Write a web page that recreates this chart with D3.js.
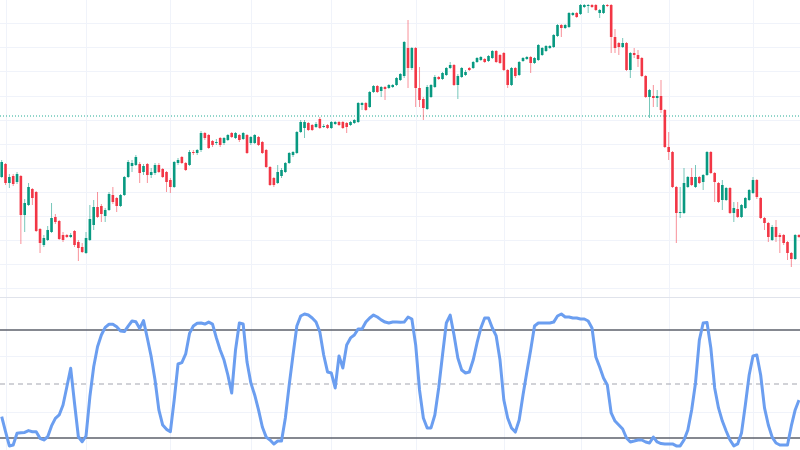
<!DOCTYPE html>
<meta charset="utf-8">
<style>
  body { margin: 0; background: #fff; }
  svg { display: block; }
</style>
<body>
<div id="chart"></div>
<script src="https://cdn.jsdelivr.net/npm/d3@7"></script>
<script>
  // candle values (arbitrary price units)
  var opens = [
    123,136,117,124,118,124,85,95,111,108, 71,55,60,68,83,79,65,65,63,69,
    58,53,47,60,75,93,94,84,90,105, 102,94,105,123,134,135,136,128,136,125,
    127,135,131,128,120,113,137,143,137,135, 148,147,150,167,165,159,157,162,157,160,
    167,162,165,161,165,157,157,163,158,150, 133,122,117,124,128,137,145,147,168,172,
    177,175,173,181,173,175,172,176,178,178, 177,175,177,178,195,197,193,208,214,209,
    213,212,213,215,220,224,252,232,252,212, 201,191,203,213,223,221,225,232,235,215,
    223,225,232,232,238,240,241,239,242,249, 245,247,230,215,232,225,239,241,243,237,
    240,245,249,252,253,264,275,272,273,285, 287,286,293,294,295,295,287,287,295,295,
    263,257,253,257,230,247,245,242,224,203, 204,202,204,190,153,148,113,87,87,113,
    123,113,123,118,125,148,127,117,100,100, 112,87,91,83,92,100,107,120,102,82,
    77,60,73,65,65,58,47,41,65
  ];
  var highs = [
    140,137,126,126,128,125,101,117,112,109, 72,65,74,97,86,80,68,66,67,70,
    60,57,68,95,100,108,96,92,108,113, 103,106,124,140,140,145,138,136,137,132,
    137,137,132,129,122,139,142,144,138,150, 150,151,169,168,166,160,161,163,163,166,
    168,168,166,168,166,164,166,164,159,151, 134,123,135,132,138,148,149,169,180,180,
    178,176,178,183,176,176,179,179,179,179, 178,179,181,198,198,198,209,215,215,214,
    214,216,216,223,227,259,280,253,253,233, 203,215,216,225,224,228,233,238,236,226,
    233,230,233,239,243,244,242,245,250,250, 246,248,231,233,233,239,243,244,244,243,
    256,253,255,255,266,276,276,276,288,288, 288,296,296,296,296,296,291,296,296,296,
    271,258,262,258,248,252,250,243,225,211, 215,210,220,191,168,149,114,113,132,124,
    132,135,124,126,149,149,128,118,120,113, 113,98,98,96,103,111,123,121,103,83,
    78,75,80,67,66,59,48,66,66
  ];
  var lows = [
    122,115,112,114,116,56,68,94,95,68, 47,53,59,67,76,60,58,62,62,53,
    39,47,46,59,70,82,78,78,89,96, 88,93,104,122,128,134,117,125,117,122,
    125,127,122,108,107,112,135,136,129,134, 145,145,148,160,151,153,155,153,155,159,
    162,161,158,160,146,155,156,154,146,132, 114,113,116,122,127,136,143,146,167,162,
    169,169,172,171,172,171,171,175,174,171, 167,174,176,177,190,189,192,207,207,203,
    200,211,212,214,219,222,212,230,193,193, 180,190,202,212,220,220,224,231,214,201,
    222,224,229,231,237,239,237,238,241,237, 236,229,212,214,222,224,238,240,227,236,
    239,244,248,251,252,263,263,271,272,284, 282,285,292,287,292,289,282,286,293,247,
    247,245,252,229,222,242,233,223,202,182, 193,193,187,152,140,112,57,82,86,112,
    114,112,116,110,124,126,98,97,90,99, 86,78,82,82,91,99,106,101,81,70,
    58,59,58,47,55,40,33,40,62
  ];
  var closes = [
    138,117,123,116,126,85,97,113,102,69, 57,62,70,82,78,61,60,63,65,55,
    52,48,62,81,93,83,86,90,106,98, 94,105,123,138,137,143,127,134,125,128,
    135,128,123,118,113,138,140,137,130,148, 147,150,167,162,152,155,158,155,162,165,
    163,167,160,167,147,163,165,155,147,133, 115,115,128,130,137,147,148,168,178,178,
    170,170,176,172,174,172,178,178,175,172, 173,178,180,197,197,190,208,214,208,213,
    211,215,215,222,226,258,232,252,212,200, 192,213,215,223,221,227,232,235,215,224,
    232,228,230,238,242,243,238,244,249,238, 237,230,215,232,224,238,242,243,237,242,
    255,252,254,254,265,275,272,275,287,287, 283,295,295,295,293,290,290,295,294,263,
    252,253,257,230,247,245,241,224,203,210, 202,204,190,153,148,113,87,88,117,123,
    115,123,117,125,148,127,118,98,115,112, 87,92,83,95,102,110,120,103,82,77,
    63,73,63,63,57,47,41,65,63
  ];

  // oscillator (0-100)
  var stoch = [
    31.9,23.5,15.6,16.1,22.6,22.9,23.1,24.1,23.5,23.5, 19.8,18.9,20.7,26.7,30.9,32.8,38.3,48.5,58.7,39.3,
    20.7,17.9,21.1,42.9,59.6,70.7,77.2,81.5,83.2,83.2, 81.8,79.4,79.1,82.2,85,84.6,80.9,85.2,75.4,65.2,
    52.2,35.6,27.2,24.8,23.5,41.1,61.1,61.9,66.7,78.1, 82.2,83.7,
    83.9,83.3,84.4,83.3,75.6,68.9,63.3,55,45,68.9, 83.9,83.3,62.2,50.6,43.9,35.6,26.1,20.5,18.9,16.7,
    18.3,18.3,31.1,49.4,66.1,82.2,87.8,88.9,88.3,86.7, 84.4,78.9,66.1,56.7,56.1,47.8,65.6,58.9,71.7,75.6,
    77.2,80.6,80.6,84.4,86.7,88.3,87.2,85.6,84.4,83.9, 84.4,84.4,
    84.3,84.4,87.2,86.1,71.7,46.7,31.1,25.6,25.6,32.8, 47.8,66.1,83.9,88.3,77.2,64.4,57.8,56.1,56.7,63.3,
    72.8,81.1,86.7,86.7,81.1,76.7,63.3,41.1,31.1,25.6, 23.3,30,43.9,56.7,68.9,82.2,83.9,83.9,83.9,83.9,
    84.4,87.8,88.9,87.2,87.2,86.7,86.7,86.1,86.1,85, 81.1,65,
    59.4,53.3,49.4,33.9,29.4,27.2,25,20,17.8,18.3, 18.9,18.9,17.8,17.2,20.5,17.8,16.9,16.7,16.7,16.7,
    15.6,15.6,18.9,24.4,35.6,50.6,74.4,83.9,84.2,70, 47.8,36.7,29.4,23.9,18.9,15.6,16.7,22.8,38.3,55,
    65.6,66.1,55,36.7,27.2,20.5,17.2,16.1,16.1,16.1, 26.7,35.6,41.1
  ];

  var monthStarts = [1, 22, 44, 65, 86, 108, 131, 151, 174, 196];
  var priceGrid = [12, 36, 60, 84, 108, 132, 156, 180, 204, 229, 253, 277];
  var refPrice = 184;
  var oscGrid = [65.6, 34.4];
  var oscBands = [80, 20];
  var oscMid = 50;

  var width = 800, height = 450;
  var paneTop = 297;

  var svg = d3.select("#chart").append("svg")
    .attr("width", width)
    .attr("height", height);

  var x = d3.scaleLinear().domain([0, opens.length - 1]).range([1.7, 799]);
  var y = d3.scaleLinear().domain([3, 300]).range([paneTop, 0]);
  var yOsc = d3.scaleLinear().domain([20, 80]).range([438, 330]);

  var green = "#089981", red = "#f23645";
  var bodyW = 2.6;

  // grid
  var grid = svg.append("g").attr("shape-rendering", "crispEdges");
  grid.selectAll(".vgrid")
    .data(monthStarts)
    .enter().append("line")
    .attr("x1", d => Math.round(x(d)) + 0.5).attr("x2", d => Math.round(x(d)) + 0.5)
    .attr("y1", 0).attr("y2", height)
    .attr("stroke", "#f0f3fa");

  grid.selectAll(".hgrid")
    .data(priceGrid)
    .enter().append("line")
    .attr("x1", 0).attr("x2", width)
    .attr("y1", d => Math.round(y(d)) + 0.5).attr("y2", d => Math.round(y(d)) + 0.5)
    .attr("stroke", "#f0f3fa");

  grid.selectAll(".ogrid")
    .data(oscGrid)
    .enter().append("line")
    .attr("x1", 0).attr("x2", width)
    .attr("y1", d => Math.round(yOsc(d)) + 0.5).attr("y2", d => Math.round(yOsc(d)) + 0.5)
    .attr("stroke", "#f0f3fa");

  // pane separator
  svg.append("line")
    .attr("x1", 0).attr("x2", width)
    .attr("y1", paneTop + 0.5).attr("y2", paneTop + 0.5)
    .attr("stroke", "#e0e3eb");

  // reference price line
  svg.append("line")
    .attr("x1", 0).attr("x2", width)
    .attr("y1", y(refPrice)).attr("y2", y(refPrice))
    .attr("stroke", "#22ab94")
    .attr("stroke-width", 1)
    .attr("stroke-dasharray", "1,2");

  // candles
  var candles = svg.append("g").selectAll("g")
    .data(opens.map((o, i) => ({ i: i, o: o, h: highs[i], l: lows[i], c: closes[i] })))
    .enter().append("g")
    .attr("fill", d => d.c >= d.o ? green : red)
    .attr("stroke", d => d.c >= d.o ? green : red);

  candles.append("line")
    .attr("x1", d => x(d.i)).attr("x2", d => x(d.i))
    .attr("y1", d => y(d.h)).attr("y2", d => y(d.l))
    .attr("stroke-width", 1)
    .attr("stroke-opacity", 0.55);

  candles.append("rect")
    .attr("x", d => x(d.i) - bodyW / 2)
    .attr("width", bodyW)
    .attr("y", d => y(Math.max(d.o, d.c)))
    .attr("height", d => Math.max(1, Math.abs(y(d.o) - y(d.c))))
    .attr("stroke", "none");

  // oscillator levels
  svg.selectAll(".band")
    .data(oscBands)
    .enter().append("line")
    .attr("x1", 0).attr("x2", width)
    .attr("y1", d => yOsc(d)).attr("y2", d => yOsc(d))
    .attr("stroke", "#5d606b")
    .attr("stroke-width", 1.5);

  svg.append("line")
    .attr("x1", 0).attr("x2", width)
    .attr("y1", yOsc(oscMid)).attr("y2", yOsc(oscMid))
    .attr("stroke", "#a3a6af")
    .attr("stroke-width", 1.2)
    .attr("stroke-dasharray", "5,4");

  var line = d3.line()
    .x((d, i) => x(i))
    .y(d => yOsc(d));

  svg.append("path")
    .datum(stoch)
    .attr("d", line)
    .attr("fill", "none")
    .attr("stroke", "#6b9ef0")
    .attr("stroke-width", 3)
    .attr("stroke-linejoin", "round");
</script>
